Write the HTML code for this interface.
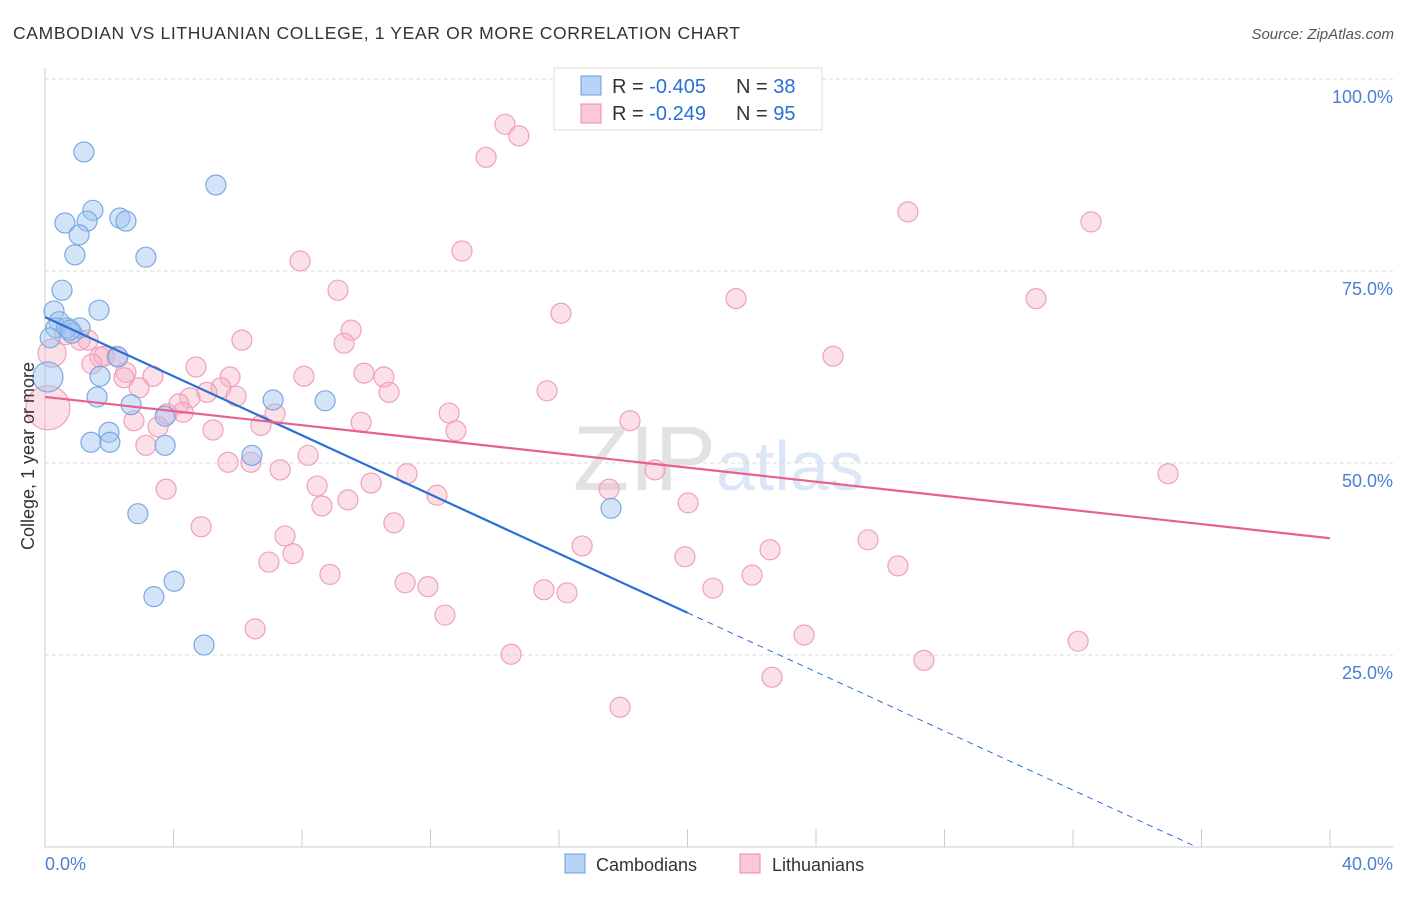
<!DOCTYPE html>
<html><head><meta charset="utf-8"><style>
body{margin:0;background:#fff;font-family:"Liberation Sans",sans-serif}
svg text{font-family:"Liberation Sans",sans-serif}
</style></head><body>
<svg id="c" width="1406" height="892" xmlns="http://www.w3.org/2000/svg">
<text x="13" y="39" font-size="17.5" fill="#333" textLength="727">CAMBODIAN VS LITHUANIAN COLLEGE, 1 YEAR OR MORE CORRELATION CHART</text>
<text x="1394" y="39" font-size="15" fill="#555" font-style="italic" text-anchor="end">Source: ZipAtlas.com</text>
<text x="716" y="490" font-size="92" fill="#ccc" opacity="0.55" text-anchor="end" font-family="Liberation Serif">ZIP</text>
<text x="716" y="490" font-size="70" fill="#b0c8ee" opacity="0.45">atlas</text>
<g id="grid"></g><g id="pts"></g><g id="lines"></g>
<text transform="translate(34,456) rotate(-90)" font-size="18" fill="#333" text-anchor="middle">College, 1 year or more</text>
<g>
<rect x="554" y="68" width="268" height="62" fill="#fff" stroke="#ddd"/>
<rect x="581" y="76" width="20" height="19" fill="#b8d3f5" stroke="#6a9ee0"/>
<rect x="581" y="104" width="20" height="19" fill="#fac8d6" stroke="#f08aa8"/>
<text x="612" y="93" font-size="20" fill="#333">R = <tspan fill="#2a6fd6">-0.405</tspan></text>
<text x="736" y="93" font-size="20" fill="#333">N = <tspan fill="#2a6fd6">38</tspan></text>
<text x="612" y="120" font-size="20" fill="#333">R = <tspan fill="#2a6fd6"> -0.249</tspan></text>
<text x="736" y="120" font-size="20" fill="#333">N = <tspan fill="#2a6fd6">95</tspan></text>
</g>
<g>
<rect x="565" y="854" width="20" height="19" fill="#b8d3f5" stroke="#6a9ee0"/>
<text x="596" y="871" font-size="18" fill="#333">Cambodians</text>
<rect x="740" y="854" width="20" height="19" fill="#fac8d6" stroke="#f08aa8"/>
<text x="772" y="871" font-size="18" fill="#333">Lithuanians</text>
</g>
</svg>
<script>
const blueX=[1.21,5.32,1.49,0.62,1.31,2.33,2.52,1.06,3.14,0.93,0.53,0.28,1.68,0.44,0.34,1.09,0.68,0.84,0.16,2.27,0.09,1.71,1.62,2.68,7.10,8.72,3.74,1.99,1.43,2.02,3.74,6.44,2.89,17.62,4.02,3.39,4.95,0.78];
const blueY=[90.5,86.2,82.9,81.25,81.5,81.9,81.5,79.7,76.8,77.1,72.5,69.8,69.9,68.4,67.6,67.6,67.6,66.9,66.3,63.8,61.2,61.3,58.6,57.6,58.2,58.1,56.1,54.0,52.7,52.7,52.3,51.0,43.4,44.1,34.6,32.6,26.3,67.3];
const blueR=[10,10,10,10,10,10,10,10,10,10,10,10,10,10,10,10,10,10,10,10,15,10,10,10,10,10,10,10,10,10,10,10,10,10,10,10,10,10];
const pinkX=[14.32,14.75,13.73,26.86,32.56,12.98,7.94,9.12,21.51,30.85,16.06,9.53,9.31,6.13,24.53,0.22,0.62,1.09,1.34,1.71,1.84,2.24,1.46,2.52,4.70,3.36,2.46,5.76,8.06,9.93,10.55,5.48,5.04,5.95,2.93,10.71,15.63,4.51,4.17,4.30,3.80,7.16,0.09,12.58,2.77,9.84,18.21,3.52,5.23,6.72,12.79,3.14,8.19,5.70,6.41,7.32,11.27,18.99,34.96,8.47,10.15,3.77,9.43,12.20,17.56,8.62,20.02,10.86,4.86,7.47,25.62,16.72,22.57,7.72,6.97,19.92,26.55,8.87,22.01,11.21,11.92,15.53,16.25,20.79,12.45,6.54,23.63,32.16,14.51,27.36,22.63,17.90];
const pinkY=[94.1,92.6,89.8,82.7,81.4,77.6,76.3,72.5,71.4,71.4,69.5,67.3,65.6,66.0,63.9,64.3,66.7,66.0,66.0,63.8,63.9,63.9,62.9,61.8,62.5,61.3,61.1,61.2,61.3,61.7,61.2,59.8,59.2,58.7,59.8,59.2,59.4,58.5,57.7,56.6,56.4,56.4,57.2,56.5,55.5,55.3,55.5,54.7,54.3,54.9,54.2,52.3,51.0,50.1,50.1,49.1,48.6,49.1,48.6,47.0,47.4,46.6,45.2,45.8,46.6,44.4,44.8,42.2,41.7,40.5,40.0,39.2,38.7,38.2,37.1,37.8,36.6,35.5,35.4,34.4,33.9,33.5,33.1,33.7,30.2,28.4,27.6,26.8,25.1,24.3,22.1,18.2];
const pinkBig=[42];
const pinkMid=[15];
const blueTrend=[69.0,-8.0];
const pinkTrend=[58.6,40.2];
const yTicks=[100,75,50,25];
const xTickLabels=["0.0%","40.0%"];
const NS="http://www.w3.org/2000/svg";
const sx=v=>45+v*32.125, sy=v=>847-v*7.68;
function mk(tag,attrs,parent){const e=document.createElementNS(NS,tag);for(const k in attrs)e.setAttribute(k,attrs[k]);parent.appendChild(e);return e;}
const grid=document.getElementById('grid'),pts=document.getElementById('pts'),lines=document.getElementById('lines');
yTicks.forEach(t=>{
 const l=mk('line',{x1:45,x2:1393,y1:sy(t),y2:sy(t),stroke:'#ddd','stroke-dasharray':'4,3'},grid);
 
 
 const tx=mk('text',{x:1393,y:sy(t)+24,'font-size':18,fill:'#4a7fd4','text-anchor':'end'},grid);
 tx.textContent=t.toFixed(1)+'%';
 
 
});
const ax=mk('line',{x1:45,x2:1393,y1:847,y2:847,stroke:'#ccc'},grid);


const ay=mk('line',{x1:45,x2:45,y1:68,y2:847,stroke:'#ccc'},grid);


for(let i=0;i<=10;i++){
 const t=mk('line',{x1:sx(i*4),x2:sx(i*4),y1:829,y2:847,stroke:'#ccc'},grid);
 
 
}
[[0,'start'],[40,'end']].forEach((p,i)=>{
 const t=mk('text',{x:sx(p[0])+(i?63:0),y:870,'font-size':18,fill:'#4a7fd4','text-anchor':p[1]},grid);
 t.textContent=xTickLabels[i];
 
 
});
pinkX.forEach((x,i)=>{
 const r=pinkBig.includes(i)?22:(pinkMid.includes(i)?14:10);
 const c=mk('circle',{cx:sx(x),cy:sy(pinkY[i]),r:r,fill:'rgba(248,178,198,0.4)',stroke:'#f0a0b8','stroke-width':1.2},pts);
 
 
});
blueX.forEach((x,i)=>{
 const c=mk('circle',{cx:sx(x),cy:sy(blueY[i]),r:blueR[i],fill:'rgba(160,196,240,0.45)',stroke:'#7aa8e4','stroke-width':1.2},pts);
 
 
});
const by=x=>blueTrend[0]+(blueTrend[1]-blueTrend[0])*x/40;
const b1=mk('line',{x1:sx(0),y1:sy(by(0)),x2:sx(20),y2:sy(by(20)),stroke:'#2a6fd6','stroke-width':2.2},lines);


const xEnd=40*(0-blueTrend[0])/(blueTrend[1]-blueTrend[0]);
const b2=mk('line',{x1:sx(20),y1:sy(by(20)),x2:sx(xEnd),y2:sy(0),stroke:'#2a6fd6','stroke-width':1,'stroke-dasharray':'6,5'},lines);


const p1=mk('line',{x1:sx(0),y1:sy(pinkTrend[0]),x2:sx(40),y2:sy(pinkTrend[1]),stroke:'#e8608e','stroke-width':2.2},lines);


</script>
</body></html>
